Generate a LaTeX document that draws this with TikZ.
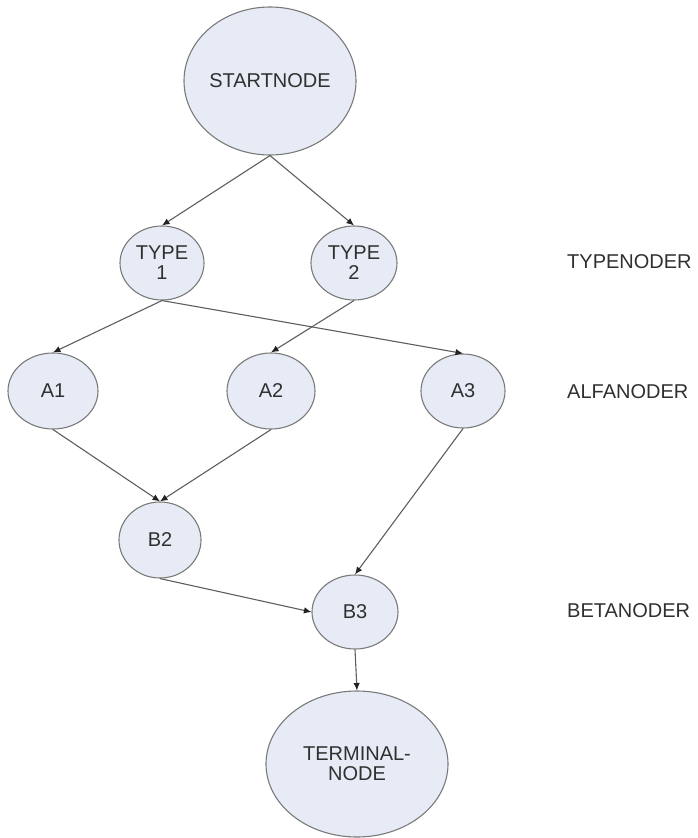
\documentclass[tikz,border=0pt]{standalone}
\usepackage{fontspec}
\setmainfont{Liberation Sans}
\usetikzlibrary{shapes.geometric,arrows.meta}
\definecolor{nodefill}{HTML}{E7EBF5}
\definecolor{rimgray}{HTML}{7A7A7A}
\definecolor{linegray}{HTML}{5E5E5E}
\definecolor{tipdark}{HTML}{222222}
\definecolor{txtgray}{HTML}{303030}
\begin{document}
\begin{tikzpicture}[x=1pt,y=-1pt,
  vnode/.style args={#1/#2}{ellipse, draw=rimgray, fill=nodefill, line width=1.1pt,
    inner sep=0pt, minimum width=#1, minimum height=#2},
  vtext/.style={font=\fontsize{20}{20}\selectfont, text=txtgray, align=center, inner sep=0pt},
  conn/.style={draw=linegray, line width=1.1pt,
    -{Latex[length=7.5pt,width=6.5pt,color=tipdark]}},
  rowlabel/.style={font=\fontsize{20}{21}\selectfont, text=txtgray, anchor=west, inner sep=0pt}
]
\useasboundingbox (0,0) rectangle (698,838);

% nodes
\node[vnode=172pt/148pt, label={[vtext]center:STARTNODE}] (start) at (270,81) {};
\node[vnode=84pt/74pt, label={[vtext]center:{TYPE\\1}}] (t1) at (162,263) {};
\node[vnode=86pt/74pt, label={[vtext]center:{TYPE\\2}}] (t2) at (354,263) {};
\node[vnode=90pt/76pt, label={[vtext]center:A1}] (a1) at (53,391) {};
\node[vnode=88pt/76pt, label={[vtext]center:A2}] (a2) at (271,391) {};
\node[vnode=84pt/74pt, label={[vtext]center:A3}] (a3) at (463,391) {};
\node[vnode=82pt/76pt, label={[vtext]center:B2}] (b2) at (160,540) {};
\node[vnode=86pt/74pt, label={[vtext]center:B3}] (b3) at (355,612) {};
\node[vnode=182pt/146pt, label={[vtext]center:{TERMINAL-\\NODE}}] (term) at (357,764) {};

% row labels
\node[rowlabel] (ltype) at (567,262) {TYPENODER};
\node[rowlabel] (lalfa) at (567,392) {ALFANODER};
\node[rowlabel] (lbeta) at (567,611) {BETANODER};

% connectors
\draw[conn] (start.south) -- (t1.north);
\draw[conn] (start.south) -- (t2.north);
\draw[conn] (t1.south) -- (a1.north);
\draw[conn] (t1.south) -- (a3.north);
\draw[conn] (t2.south) -- (a2.north);
\draw[conn] (a1.south) -- (b2.north);
\draw[conn] (a2.south) -- (b2.north);
\draw[conn] (a3.south) -- (b3.north);
\draw[conn] (b2.south) -- (b3.west);
\draw[conn] (b3.south) -- (term.north);
\end{tikzpicture}
\end{document}
